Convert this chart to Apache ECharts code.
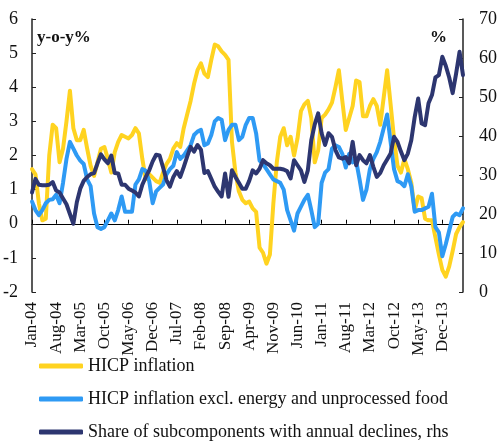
<!DOCTYPE html>
<html>
<head>
<meta charset="utf-8">
<script src="https://cdn.jsdelivr.net/npm/echarts@6/dist/echarts.min.js"></script>
<style>
    html, body { margin: 0; padding: 0; background: #fff; }
    #chart { width: 500px; height: 441px; }
</style>
</head>
<body>
<div id="chart"></div>
<script>
// monthly categories Jan-04 .. Jun-14
const monthNames = ['Jan', 'Feb', 'Mar', 'Apr', 'May', 'Jun', 'Jul', 'Aug', 'Sep', 'Oct', 'Nov', 'Dec'];
const months = [];
for (let y = 2004; y <= 2014; y++) {
    for (let m = 0; m < 12; m++) {
        if (y === 2014 && m > 5) break;
        months.push(monthNames[m] + '-' + String(y).slice(2));
    }
}

const leftTicks = [-2, -1, 0, 1, 2, 3, 4, 5, 6];
const rightTicks = [0, 10, 20, 30, 40, 50, 60, 70];

// HICP inflation, y-o-y %
const hicp = [
    1.6, 1.45, 0.6, 0.1, 0.15, 2.0, 2.9, 2.8, 1.8, 2.2, 3.0, 3.9,
    2.8, 2.45, 2.45, 2.75, 2.2, 1.7, 1.4, 1.8, 2.2, 2.25, 1.9, 1.5,
    2.1, 2.4, 2.6, 2.55, 2.5, 2.6, 2.8, 2.65, 1.9, 1.3, 1.45, 1.35,
    1.25, 1.2, 1.5, 1.75, 1.9, 2.2, 2.36, 2.25, 2.8, 3.2, 3.6, 4.1,
    4.5, 4.7, 4.4, 4.3, 4.8, 5.25, 5.2, 5.05, 4.95, 4.8, 2.4, 1.5,
    0.95, 0.7, 0.6, 0.65, 0.45, 0.35, -0.7, -0.85, -1.17, -0.9, 0.6, 1.8,
    2.55, 2.8, 2.3, 2.55, 2.0, 2.5, 3.3, 3.5, 3.6, 3.1, 1.8, 2.15,
    3.1, 3.2, 3.35, 3.55, 4.0, 4.5, 3.6, 2.75, 3.1, 3.45, 4.2, 4.15,
    3.15, 3.15, 3.45, 3.65, 3.45, 2.9, 3.7, 4.5, 3.5, 2.5, 1.7, 1.5,
    1.9, 1.6, 1.2, 0.4, 0.8, 0.75, 0.15, 0.1, 0.1, -0.4, -0.9, -1.35,
    -1.55, -1.25, -0.8, -0.3, -0.1, 0.05
];

// HICP inflation excl. energy and unprocessed food
const hicpCore = [
    0.65, 0.4, 0.25, 0.4, 0.6, 0.7, 0.72, 0.85, 0.6, 1.2, 1.9, 2.4,
    2.2, 2.0, 1.85, 1.75, 1.3, 1.1, 0.3, -0.1, -0.15, -0.1, 0.1, 0.3,
    0.1, 0.4, 0.8, 0.35, 0.35, 0.35, 1.15, 1.3, 1.6, 1.55, 1.25, 0.6,
    0.95, 1.05, 1.15, 1.45, 1.6, 1.7, 2.1, 1.9, 2.0, 2.15, 2.3, 2.6,
    2.7, 2.75, 2.3, 2.35, 2.6, 3.0, 3.1, 3.05, 2.45, 2.75, 2.9, 2.9,
    2.45, 2.55, 2.9, 3.1, 3.1, 2.65, 1.85, 1.75, 1.6, 1.45, 1.3, 1.25,
    1.2, 1.0, 0.4, 0.1, -0.2, 0.3, 0.5, 0.7, 0.85, 0.4, -0.1, 0.0,
    1.2, 1.5, 1.6, 2.2, 2.3, 2.25, 2.05, 1.65, 2.05, 1.8, 1.85, 1.3,
    0.7, 1.0, 1.6, 1.9, 2.1, 2.4, 2.8, 3.2, 2.4, 1.6, 1.25, 1.2,
    1.1, 1.45, 1.1, 0.35, 0.4, 0.4, 0.45, 0.5, 0.88, -0.1, -0.25, -0.95,
    -0.6, -0.2, 0.2, 0.3, 0.25, 0.45
];

// share of subcomponents with annual declines, % (rhs)
const shareDeclines = [
    25.5, 29, 27.5, 27.4, 27.4, 27.5, 28.2, 26, 25.5, 24, 22.5, 20,
    17.5, 23, 26.5, 28.5, 29.5, 30.2, 30.5, 33, 35.3, 34, 33, 35,
    30.5, 30.4, 27.5, 27.5, 26.5, 26, 25.5, 24.5, 27.5, 29.5, 31.2, 33.5,
    35.2, 35, 32, 28.7, 27, 29.5, 31, 29.5, 32, 34.7, 37.2, 36,
    37.7, 36.5, 30.5, 31, 29, 27, 25.7, 24.5, 30.4, 24.4, 31.2, 29.5,
    28, 26.5, 26.5, 28.5, 31.2, 30.4, 31.6, 33.8, 33, 32.5, 31.6, 31.6,
    31.6, 31.4, 31, 29.1, 33.8, 32.5, 31.2, 28.2, 31.2, 38.9, 43, 45.8,
    40.7, 37.7, 40.7, 39.8, 36.4, 34.5, 34.2, 34.6, 33, 38.5, 32.5, 35.1,
    33.8, 33, 35.1, 32.1, 29.5, 30.5, 32.5, 34, 35.5, 39.8, 38.5, 36,
    33.8, 35.5, 38.9, 44.9, 49.6, 43.2, 42.8, 48.4, 50.5, 55, 55.6, 60.3,
    58, 55, 51, 56, 61.6, 55.6
];

const seriesNames = [
    'HICP inflation',
    'HICP inflation excl. energy and unprocessed food',
    'Share of subcomponents with annual declines, rhs'
];
const seriesColors = ['#FFD320', '#2E9AF4', '#2D3670'];

const serif = "'Liberation Serif', 'Times New Roman', serif";
const axisColor = '#222';

const chart = echarts.init(document.getElementById('chart'));

const lineSeries = (idx, data, yAxisIndex) => ({
    name: seriesNames[idx],
    type: 'line',
    data: data,
    yAxisIndex: yAxisIndex,
    showSymbol: false,
    symbol: 'none',
    z: yAxisIndex === 1 ? 3 : 2,
    lineStyle: { width: 4, color: seriesColors[idx], cap: 'round', join: 'round' },
    itemStyle: { color: seriesColors[idx] }
});

// one legend per row, stacked under the axis labels
const legendRow = (idx, top) => ({
    orient: 'vertical',
    left: 39,
    top: top,
    padding: 0,
    icon: 'roundRect',
    itemWidth: 44,
    itemHeight: 5,
    textStyle: { fontFamily: serif, fontSize: 18, color: '#111' },
    data: [seriesNames[idx]]
});

const option = {
    animation: false,
    grid: { left: 27, right: 37, top: 19, bottom: 149, containLabel: false },
    legend: [
        legendRow(0, 357),
        legendRow(1, 390),
        legendRow(2, 423)
    ],
    xAxis: {
        type: 'category',
        data: months,
        boundaryGap: false,
        axisLine: { onZero: true, lineStyle: { color: '#000', width: 1 } },
        axisTick: { inside: true, length: 4, interval: 6, lineStyle: { color: '#000' } },
        axisLabel: {
            interval: 6,
            rotate: 90,
            align: 'right',
            verticalAlign: 'middle',
            margin: 10,
            fontFamily: serif,
            fontSize: 17,
            color: '#111'
        },
        splitLine: { show: false }
    },
    yAxis: [
        {
            type: 'value',
            min: leftTicks[0],
            max: leftTicks[leftTicks.length - 1],
            interval: 1,
            position: 'left',
            axisLine: { show: true, lineStyle: { color: axisColor, width: 1.5 } },
            axisTick: { show: true, inside: true, length: 4, lineStyle: { color: axisColor } },
            axisLabel: { margin: 14, fontFamily: serif, fontSize: 18, color: '#111' },
            splitLine: { show: false }
        },
        {
            type: 'value',
            min: rightTicks[0],
            max: rightTicks[rightTicks.length - 1],
            interval: 10,
            position: 'right',
            axisLine: { show: true, lineStyle: { color: axisColor, width: 1.5 } },
            axisTick: { show: true, inside: true, length: 4, lineStyle: { color: axisColor } },
            axisLabel: { margin: 16, fontFamily: serif, fontSize: 18, color: '#111' },
            splitLine: { show: false }
        }
    ],
    graphic: [
        {
            type: 'text', left: 37, top: 29,
            style: { text: 'y-o-y%', font: 'bold 17px ' + serif, fill: '#111' }
        },
        {
            type: 'text', left: 430, top: 29,
            style: { text: '%', font: 'bold 17px ' + serif, fill: '#111' }
        }
    ],
    series: [
        lineSeries(0, hicp, 0),
        lineSeries(1, hicpCore, 0),
        lineSeries(2, shareDeclines, 1)
    ]
};

chart.setOption(option);
</script>
</body>
</html>
